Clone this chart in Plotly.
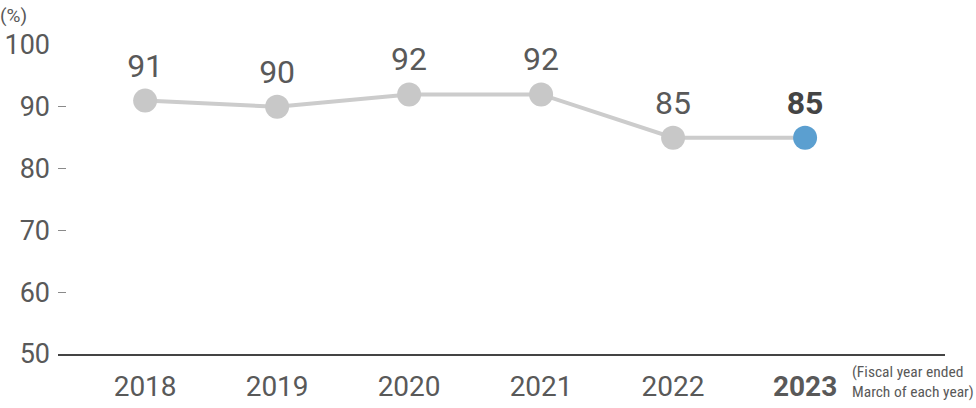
import plotly.graph_objects as go

years = ["2018", "2019", "2020", "2021", "2022", "2023"]
values = [91, 90, 92, 92, 85, 85]
year_labels = ["2018", "2019", "2020", "2021", "2022", "<b>2023</b>"]
value_labels = ["91", "90", "92", "92", "85", "<b>85</b>"]
y_ticks = [50, 60, 70, 80, 90, 100]

FONT = "Roboto, Liberation Sans, sans-serif"
GREY_TXT = "#595959"

x_idx = list(range(len(years)))
marker_colors = ["#c8c8c8"] * (len(years) - 1) + ["#5b9fd0"]
text_colors = [GREY_TXT] * (len(years) - 1) + ["#444444"]

fig = go.Figure()
fig.add_trace(go.Scatter(
    x=x_idx, y=values,
    mode="lines+markers+text",
    line=dict(color="#cccccc", width=4),
    marker=dict(size=24, color=marker_colors, line=dict(width=0)),
    text=value_labels,
    textposition="top center",
    textfont=dict(family=FONT, size=32, color=text_colors),
    cliponaxis=False,
    hoverinfo="skip",
))

fig.update_layout(
    width=976, height=408,
    margin=dict(l=58, r=31, t=45, b=54, autoexpand=False),
    paper_bgcolor="white", plot_bgcolor="white",
    showlegend=False,
    font=dict(family=FONT, color=GREY_TXT),
)
fig.update_xaxes(
    range=[-0.66, 6.06], automargin=False,
    tickmode="array", tickvals=x_idx, ticktext=year_labels,
    tickfont=dict(family=FONT, size=28, color=GREY_TXT),
    showgrid=False, zeroline=False,
    showline=True, linecolor="#444444", linewidth=1.5,
    ticks="", ticklabelstandoff=7,
)
fig.update_yaxes(
    range=[50, 100], automargin=False,
    tickmode="array", tickvals=y_ticks, ticktext=[str(v) for v in y_ticks],
    tickfont=dict(family=FONT, size=27, color=GREY_TXT),
    showgrid=False, zeroline=False, showline=False,
    ticks="inside", ticklen=8, tickcolor="#8a8a8a", tickwidth=1.2,
    ticklabelstandoff=7,
)
fig.add_annotation(
    text="(%)", xref="paper", yref="paper", x=-60/887, y=1 + 29/309,
    xanchor="left", yanchor="middle", showarrow=False,
    font=dict(family=FONT, size=19, color=GREY_TXT),
)
fig.add_annotation(
    text="(Fiscal year ended<br>March of each year)",
    xref="paper", yref="paper", x=1 + 31/887, y=-7/309,
    xanchor="right", yanchor="top", align="left", showarrow=False,
    font=dict(family="Roboto Condensed, Liberation Sans Narrow, " + FONT, size=15.5, color=GREY_TXT),
)

fig.write_html("out.html")
